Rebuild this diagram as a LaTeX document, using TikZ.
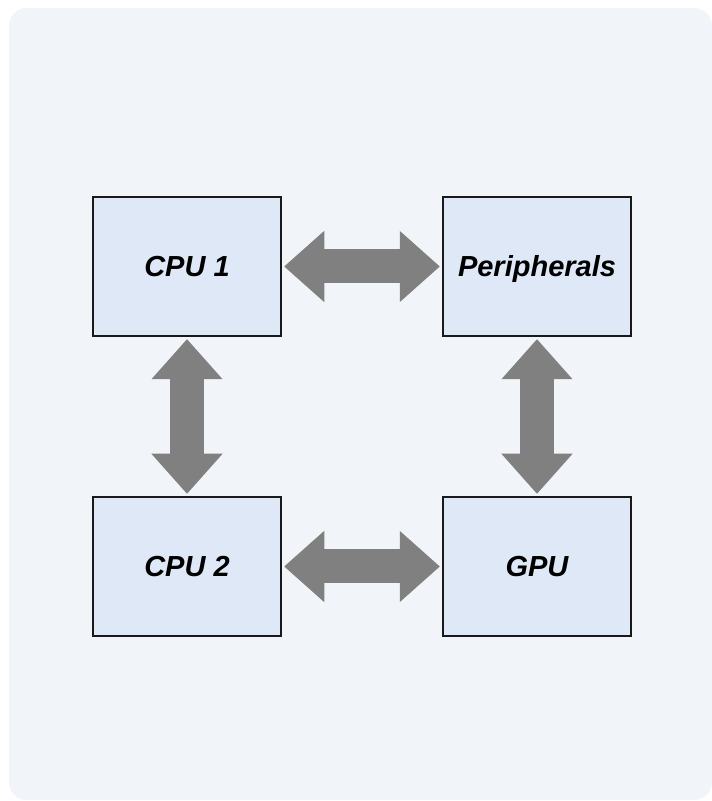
\documentclass[tikz,border=0pt]{standalone}
\usepackage{fontspec}
\setmainfont{Liberation Sans}
\usetikzlibrary{arrows.meta}

\definecolor{panelbg}{HTML}{F1F4F8}
\definecolor{boxfill}{HTML}{DEE8F6}
\definecolor{linkgray}{HTML}{808080}

\tikzset{
  unitbox/.style={draw=black!90, line width=1.5pt, fill=boxfill, minimum width=188pt,
    minimum height=139pt, inner sep=0pt, text height=21pt, text depth=0pt,
    font=\fontsize{29}{35}\selectfont\bfseries\itshape},
  buslink/.style={draw=linkgray, line width=34pt,
    {Triangle[length=40pt,width=71pt,line width=1pt]}-{Triangle[length=40pt,width=71pt,line width=1pt]},
    shorten <=2.5pt, shorten >=2.5pt}
}

\begin{document}
\begin{tikzpicture}[x=1pt,y=1pt]
    \useasboundingbox [fill=white] (0,0) rectangle (712,801);
    \fill [panelbg, rounded corners=18pt] (9,1) rectangle (712,793);
    \node [unitbox] (cpua) at (187,534.5) {CPU 1};
    \node [unitbox] (periph) at (537,534.5) {Peripherals};
    \node [unitbox] (cpub) at (187,234.5) {CPU 2};
    \node [unitbox] (gpu) at (537,234.5) {GPU};
    \draw [buslink] (cpua.east) -- (periph.west);
    \draw [buslink] (cpub.east) -- (gpu.west);
    \draw [buslink] (cpua.south) -- (cpub.north);
    \draw [buslink] (periph.south) -- (gpu.north);
\end{tikzpicture}
\end{document}
